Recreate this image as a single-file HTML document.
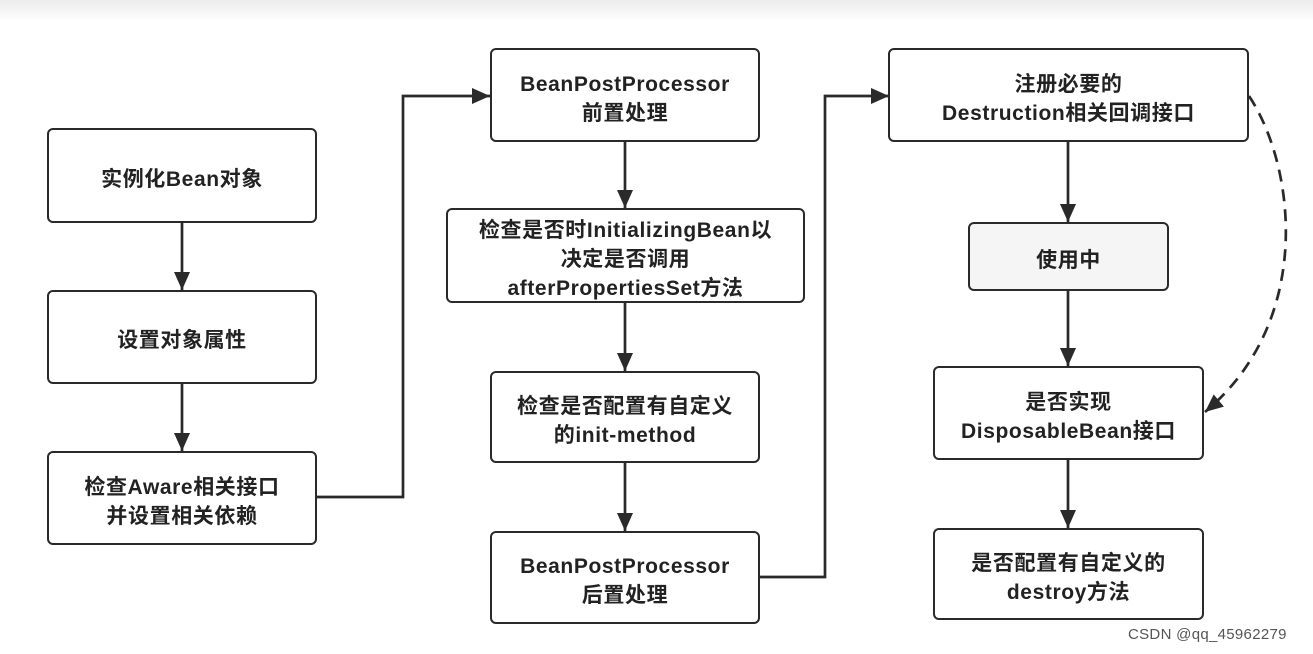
<!DOCTYPE html>
<html><head><meta charset="utf-8"><style>
body{margin:0;width:1313px;height:654px;background:#fff;overflow:hidden;position:relative;font-family:"Liberation Sans","Noto Sans CJK SC",sans-serif}
.top{position:absolute;left:0;top:0;width:1313px;height:22px;background:linear-gradient(#ececec,#fff)}
.b{position:absolute;box-sizing:border-box;border:2.5px solid #2a2a2a;border-radius:6px;background:#fff;display:flex;align-items:center;justify-content:center;text-align:center;font-weight:bold;font-size:21px;letter-spacing:0.6px;line-height:29px;color:#222;white-space:nowrap;padding-top:7px}
svg{position:absolute;left:0;top:0}
.wm{position:absolute;left:1128px;top:626px;font-size:15px;color:#555;letter-spacing:0.3px}
</style></head><body>
<div class="top"></div>
<svg width="1313" height="654">
<defs>
<marker id="m" markerWidth="18" markerHeight="22" refX="18" refY="8" orient="auto" markerUnits="userSpaceOnUse" viewBox="0 0 18 16"><path d="M0,0L18,8L0,16z" fill="#2a2a2a"/></marker></defs>
<g stroke="#2a2a2a" stroke-width="2.7" fill="none">
<path d="M182 223V290" marker-end="url(#m)"/>
<path d="M182 384V451" marker-end="url(#m)"/>
<path d="M317 497H403V96H490" marker-end="url(#m)"/>
<path d="M625 142V208" marker-end="url(#m)"/>
<path d="M625 303V371" marker-end="url(#m)"/>
<path d="M625 463V531" marker-end="url(#m)"/>
<path d="M760 577H825V96H889" marker-end="url(#m)"/>
<path d="M1068 142V222" marker-end="url(#m)"/>
<path d="M1068 291V366" marker-end="url(#m)"/>
<path d="M1068 460V528" marker-end="url(#m)"/>
<path d="M1249 96C1295 165 1315 320 1205 412" stroke-dasharray="12,8" marker-end="url(#m)"/>
</g></svg>
<div class="b" style="left:47px;top:128px;width:270px;height:95px">实例化Bean对象</div>
<div class="b" style="left:47px;top:290px;width:270px;height:94px">设置对象属性</div>
<div class="b" style="left:47px;top:451px;width:270px;height:94px">检查Aware相关接口<br>并设置相关依赖</div>
<div class="b" style="left:490px;top:48px;width:270px;height:94px">BeanPostProcessor<br>前置处理</div>
<div class="b" style="left:446px;top:208px;width:359px;height:95px">检查是否时InitializingBean以<br>决定是否调用<br>afterPropertiesSet方法</div>
<div class="b" style="left:490px;top:371px;width:270px;height:92px">检查是否配置有自定义<br>的init-method</div>
<div class="b" style="left:490px;top:531px;width:270px;height:93px">BeanPostProcessor<br>后置处理</div>
<div class="b" style="left:888px;top:48px;width:361px;height:94px">注册必要的<br>Destruction相关回调接口</div>
<div class="b" style="left:968px;top:222px;width:201px;height:69px;background:#f5f5f5">使用中</div>
<div class="b" style="left:933px;top:366px;width:271px;height:94px">是否实现<br>DisposableBean接口</div>
<div class="b" style="left:933px;top:528px;width:271px;height:92px">是否配置有自定义的<br>destroy方法</div>
<div class="wm">CSDN @qq_45962279</div>
</body></html>
